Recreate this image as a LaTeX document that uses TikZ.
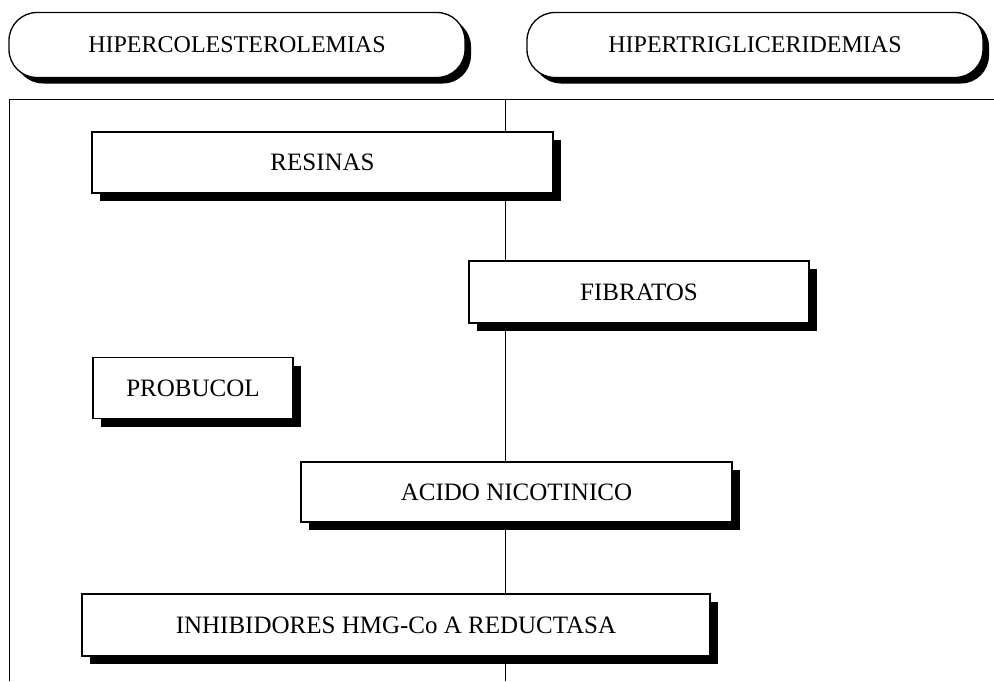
\documentclass[tikz,border=0pt]{standalone}
\usepackage{fontspec}
\setmainfont{Liberation Serif}
\usetikzlibrary{shadows}
\begin{document}
\begin{tikzpicture}[x=1pt,y=-1pt,
    grupo/.style={draw,fill=white,line width=1.3pt,rounded corners=28pt,
      minimum width=456pt,minimum height=65pt,
      drop shadow={shadow xshift=6pt,shadow yshift=-6pt,opacity=1,fill=black},
      font=\fontsize{24}{28}\selectfont},
    farmaco/.style={draw,fill=white,line width=1.2pt,inner sep=0pt,
      drop shadow={shadow xshift=8pt,shadow yshift=-8pt,opacity=1,fill=black},
      font=\fontsize{25}{30}\selectfont}]
      \useasboundingbox (0,0) rectangle (994,681);
      \draw[line width=1pt] (9,681) -- (9,99) -- (994,99) ;
      \draw[line width=1pt] (505,99) -- (505,681) ;
      \node[grupo] (hiperc) at (237,45) {HIPERCOLESTEROLEMIAS};
      \node[grupo] (hipert) at (755,45) {HIPERTRIGLICERIDEMIAS};
      \node[farmaco,minimum width=461pt,minimum height=61pt] (resinas) at (322.5,162.5) {RESINAS};
      \node[farmaco,minimum width=340pt,minimum height=62pt] (fibratos) at (639,292) {FIBRATOS};
      \node[farmaco,minimum width=200pt,minimum height=61pt] (probucol) at (193,388) {PROBUCOL};
      \node[farmaco,minimum width=431pt,minimum height=60pt] (acido) at (516.5,492) {ACIDO NICOTINICO};
      \node[farmaco,minimum width=628pt,minimum height=62pt] (inhib) at (396,625) {INHIBIDORES HMG-Co A REDUCTASA};
    \end{tikzpicture}
\end{document}
